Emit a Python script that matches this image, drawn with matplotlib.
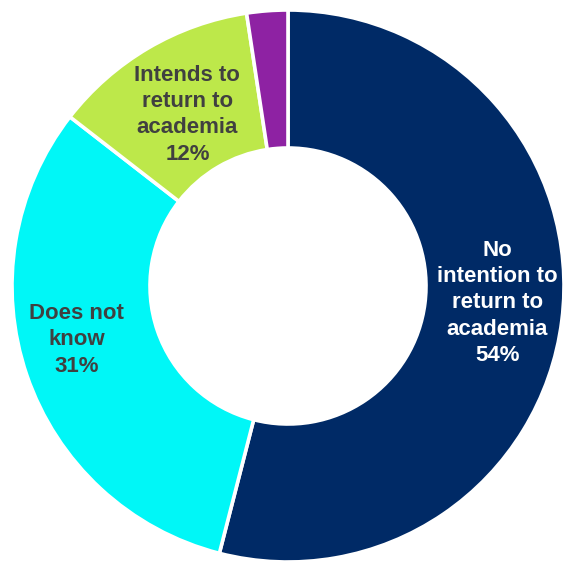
import numpy as np
import matplotlib.pyplot as plt

plt.rcParams['font.family'] = ['Liberation Sans', 'DejaVu Sans']

# --- Data ---
categories = ['No\nintention to\nreturn to\nacademia', 'Does not\nknow',
              'Intends to\nreturn to\nacademia', 'Other']
shares = [54.0, 31.5, 12.1, 2.4]
pct_labels = ['54%', '31%', '12%', '']
colors = ['#002A66', '#00F7F7', '#BDE84A', '#8E22A3']
text_colors = ['white', '#404040', '#404040', 'none']
label_radius = [0.76, 0.79, 0.72, 0.75]
label_shift = [2.6, -4.6, 0.0, 0.0]   # degrees, nudge from wedge middle

# --- Plot ---
fig = plt.figure(figsize=(5.67, 5.65), dpi=100)
ax = fig.add_axes([0, 0, 1, 1])

R = 276.0
cx, cy = 288.0, 286.0
wedges, _ = ax.pie(shares, colors=colors, startangle=90, counterclock=False,
                   radius=1.0, wedgeprops=dict(width=0.5, edgecolor='white', linewidth=2.6))

for w, cat, pct, tc, r, sh in zip(wedges, categories, pct_labels, text_colors,
                                  label_radius, label_shift):
    if not pct:
        continue
    ang = np.deg2rad((w.theta1 + w.theta2) / 2 + sh)
    ax.text(r * np.cos(ang), r * np.sin(ang), cat + '\n' + pct, ha='center', va='center',
            color=tc, fontsize=16, fontweight='bold', linespacing=1.33)

ax.set_xlim(-cx / R, (567 - cx) / R)
ax.set_ylim(-(565 - cy) / R, cy / R)
ax.set_aspect('auto')
ax.axis('off')

fig.savefig('out.png', dpi=100)
